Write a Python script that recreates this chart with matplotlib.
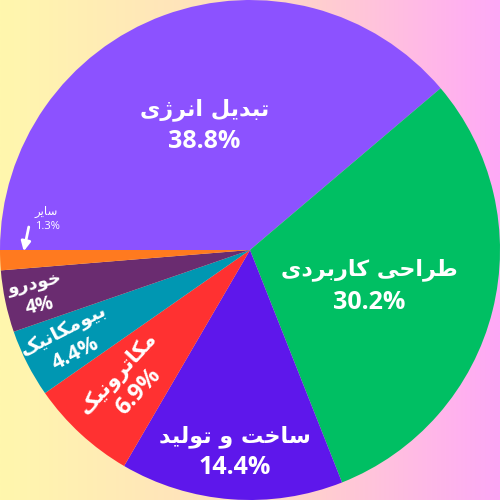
import numpy as np
import matplotlib
matplotlib.use("Agg")
import matplotlib.pyplot as plt
from matplotlib.colors import LinearSegmentedColormap

# data
labels = ["تبدیل انرژی", "طراحی کاربردی", "ساخت و تولید", "مکاترونیک", "بیومکانیک", "خودرو", "سایر"]
values = [38.8, 30.2, 14.4, 6.9, 4.4, 4.0, 1.3]
pct_text = ["38.8%", "30.2%", "14.4%", "6.9%", "4.4%", "4%", "1.3%"]
colors = ["#8C52FF", "#00BF63", "#5E17EB", "#FF3131", "#0097B2", "#6A2C70", "#FF7A1F"]

# presentation forms: isolated, final, initial, medial
FORMS = {
    "ا": ("\uFE8D", "\uFE8E", None, None),
    "ب": ("\uFE8F", "\uFE90", "\uFE91", "\uFE92"),
    "ت": ("\uFE95", "\uFE96", "\uFE97", "\uFE98"),
    "ح": ("\uFEA1", "\uFEA2", "\uFEA3", "\uFEA4"),
    "خ": ("\uFEA5", "\uFEA6", "\uFEA7", "\uFEA8"),
    "د": ("\uFEA9", "\uFEAA", None, None),
    "ر": ("\uFEAD", "\uFEAE", None, None),
    "ژ": ("\uFB8A", "\uFB8B", None, None),
    "س": ("\uFEB1", "\uFEB2", "\uFEB3", "\uFEB4"),
    "ط": ("\uFEC1", "\uFEC2", "\uFEC3", "\uFEC4"),
    "ک": ("\uFB8E", "\uFB8F", "\uFB90", "\uFB91"),
    "ل": ("\uFEDD", "\uFEDE", "\uFEDF", "\uFEE0"),
    "م": ("\uFEE1", "\uFEE2", "\uFEE3", "\uFEE4"),
    "ن": ("\uFEE5", "\uFEE6", "\uFEE7", "\uFEE8"),
    "و": ("\uFEED", "\uFEEE", None, None),
    "ی": ("\uFBFC", "\uFBFD", "\uFBFE", "\uFBFF"),
}


def fa(text):
    # shape persian letters and flip to visual order
    out = []
    for i, ch in enumerate(text):
        if ch not in FORMS:
            out.append(ch)
            continue
        iso, fin, ini, med = FORMS[ch]
        prev = text[i - 1] if i > 0 else ""
        nxt = text[i + 1] if i + 1 < len(text) else ""
        join_prev = prev in FORMS and FORMS[prev][2] is not None
        join_next = nxt in FORMS and ini is not None
        if join_prev and join_next:
            out.append(med)
        elif join_prev:
            out.append(fin)
        elif join_next:
            out.append(ini)
        else:
            out.append(iso)
    return "".join(out)[::-1]


fig = plt.figure(figsize=(5, 5), dpi=100)

# gradient background
bg = fig.add_axes([0, 0, 1, 1], zorder=0)
grad = np.linspace(0, 1, 256)[None, :]
cmap = LinearSegmentedColormap.from_list("bg", ["#FFF7AD", "#FFDDC0", "#FFA9F7"])
bg.imshow(grad, aspect="auto", cmap=cmap, extent=[0, 1, 0, 1])
bg.axis("off")

ax = fig.add_axes([0, 0, 1, 1], zorder=1)
ax.patch.set_alpha(0)
wedges, _ = ax.pie(values, colors=colors, startangle=180, counterclock=False, radius=1.0)
ax.set_xlim(-1, 1)
ax.set_ylim(-1, 1)
ax.set_aspect("equal")
ax.axis("off")

# label placement / styling per slice
label_r = [0.53, 0.50, 0.81, 0.72, 0.81, 0.87]
ang_off = [0, -2.8, 0, 0, 0, 0]
rotate = [False, False, False, True, True, True]
fa_size = [16, 16, 16, 15, 14, 13]
pct_size = [18, 18, 18, 17, 15.5, 14]
gaps = [11.5, 11.8, 11, 9.9, 9.7, 8.6]

for i, w in enumerate(wedges[:6]):
    mid = np.deg2rad((w.theta1 + w.theta2) / 2 + ang_off[i])
    x = label_r[i] * np.cos(mid)
    y = label_r[i] * np.sin(mid)
    rot = np.rad2deg(mid) - 180 if rotate[i] else 0
    r = np.deg2rad(rot)
    d = gaps[i]
    ax.annotate(fa(labels[i]), xy=(x, y), xytext=(-np.sin(r) * d, np.cos(r) * d),
                textcoords="offset points", ha="center", va="center",
                rotation=rot, rotation_mode="anchor", color="white",
                fontsize=fa_size[i], fontweight="bold", family="DejaVu Sans")
    ax.annotate(pct_text[i], xy=(x, y), xytext=(np.sin(r) * d, -np.cos(r) * d),
                textcoords="offset points", ha="center", va="center",
                rotation=rot, rotation_mode="anchor", color="white",
                fontsize=pct_size[i], fontweight="bold", family="Open Sans")

# small slice label with arrow
ax.annotate("", xy=(-0.905, -0.005), xytext=(-0.885, 0.092),
            arrowprops=dict(arrowstyle="-|>", color="white", lw=2, mutation_scale=14,
                            shrinkA=0, shrinkB=0))
ax.text(-0.815, 0.155, fa(labels[6]), ha="center", va="center",
        color="white", fontsize=8.5, family="DejaVu Sans")
ax.text(-0.81, 0.095, pct_text[6], ha="center", va="center",
        color="white", fontsize=8, family="Open Sans")

fig.savefig("out.png", dpi=100)
